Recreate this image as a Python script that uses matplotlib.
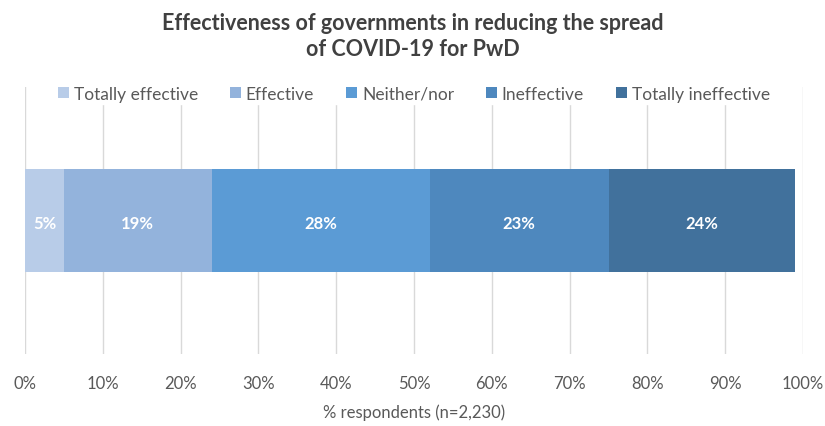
import matplotlib
matplotlib.use("Agg")
import matplotlib.pyplot as plt
from matplotlib.ticker import PercentFormatter

categories = ["Totally effective", "Effective", "Neither/nor", "Ineffective", "Totally ineffective"]
values = [5, 19, 28, 23, 24]
colors = ["#B8CCE8", "#93B3DC", "#5B9BD5", "#4E88BE", "#41719C"]
xticks = [0, 10, 20, 30, 40, 50, 60, 70, 80, 90, 100]

plt.rcParams['font.family'] = ['Lato', 'DejaVu Sans']

fig = plt.figure(figsize=(8.25, 4.27), dpi=100)
ax = fig.add_axes([25/825, 1-355/427, (803-25)/825, (355-88)/427])

left = 0
for cat, v, c in zip(categories, values, colors):
    ax.barh(0, v, left=left, height=0.386, color=c, label=cat, zorder=3)
    ax.text(left + v/2, -0.01, f"{v}%", ha="center", va="center", color="white",
            fontsize=12, fontweight="bold", zorder=4)
    left += v

ax.set_xlim(0, 100)
ax.set_ylim(-0.5, 0.5)
ax.set_xticks(xticks)
ax.xaxis.set_major_formatter(PercentFormatter(decimals=0))
ax.set_yticks([])
ax.grid(axis="x", color="#D9D9D9", linewidth=1, zorder=0)
for s in ax.spines.values():
    s.set_visible(False)
ax.tick_params(axis="x", length=0, pad=15, labelsize=12, labelcolor="#595959")
ax.set_xlabel("% respondents (n=2,230)", fontsize=12, color="#595959", labelpad=9)

leg = ax.legend(loc="center", bbox_to_anchor=(0.5, 1-(95-88)/267), ncol=5, frameon=True,
                fontsize=12.5, handlelength=0.6, handleheight=0.6, handletextpad=0.3,
                columnspacing=1.85, borderpad=0.1, edgecolor="white", facecolor="white",
                framealpha=1, fancybox=False)
for t in leg.get_texts():
    t.set_color("#595959")

fig.text(0.5, 1-24/427, "Effectiveness of governments in reducing the spread",
         ha="center", va="center", fontsize=15.5, fontweight="bold", color="#404040")
fig.text(0.5, 1-50/427, "of COVID-19 for PwD",
         ha="center", va="center", fontsize=15.5, fontweight="bold", color="#404040")

fig.savefig("out.png", dpi=100)
